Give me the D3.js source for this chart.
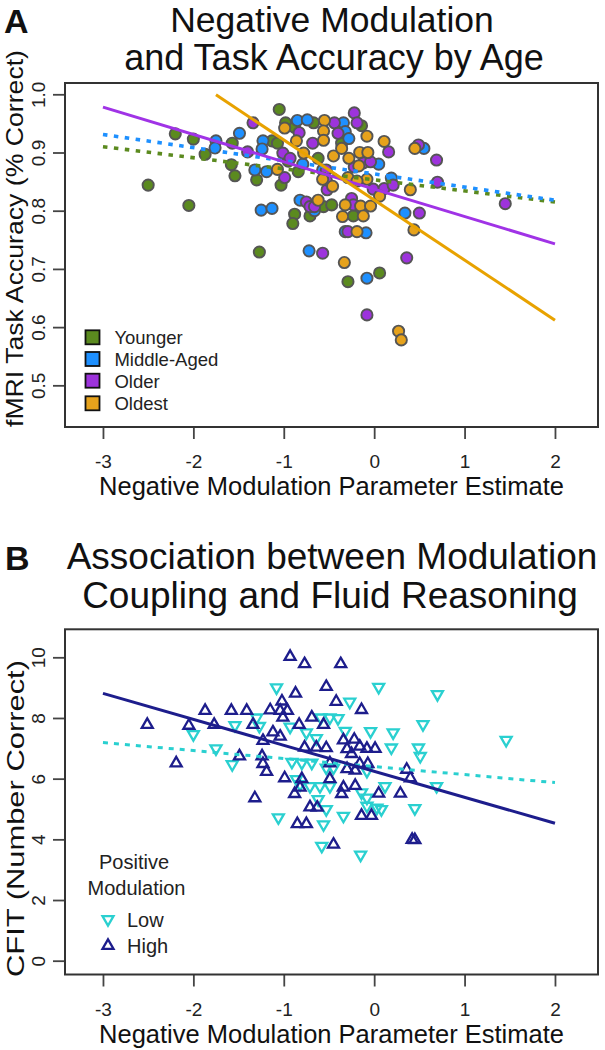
<!DOCTYPE html>
<html><head><meta charset="utf-8">
<script src="https://cdn.jsdelivr.net/npm/d3@7"></script>
<style>body{margin:0;background:#fff}</style>
</head><body>
<svg id="c" width="605" height="1050"></svg>
<script>
// ---------- DATA ----------
const xTicks = [-3, -2, -1, 0, 1, 2];
const yTicksA = [0.5, 0.6, 0.7, 0.8, 0.9, 1.0];
const yTicksB = [0, 2, 4, 6, 8, 10];
const groupsA = ["Younger", "Middle-Aged", "Older", "Oldest"];
const groupsB = ["Low", "High"];

const younger = [[-1.05,0.974],[-0.98,0.951],[-0.67,0.951],[-0.14,0.946],[-0.88,0.943],[-1.57,0.916],[-1.87,0.897],[-1.13,0.920],[-1.07,0.916],[-0.62,0.890],[-0.36,0.916],[-0.84,0.867],[-1.03,0.844],[-1.30,0.853],[-1.54,0.860],[-1.58,0.879],[-0.56,0.807],[-0.47,0.810],[-0.88,0.794],[-0.71,0.791],[-0.90,0.778],[-0.23,0.791],[-2.20,0.932],[-2.00,0.923],[-2.50,0.844],[-2.05,0.809],[-1.27,0.729],[-0.29,0.678],[0.06,0.693],[-0.95,0.885]];
const middleAged = [[-0.85,0.955],[-0.74,0.956],[-0.34,0.951],[-1.49,0.933],[-0.32,0.936],[-1.75,0.920],[-1.76,0.908],[-1.23,0.920],[-1.24,0.906],[-0.79,0.880],[0.05,0.880],[-1.32,0.870],[-1.19,0.867],[0.19,0.856],[-0.82,0.818],[-0.66,0.800],[-1.25,0.801],[-1.13,0.804],[-0.32,0.764],[-0.09,0.762],[0.55,0.907],[0.34,0.796],[-0.72,0.731],[-0.08,0.684],[-0.57,0.870],[-0.28,0.924]];
const older = [[-1.34,0.951],[-0.44,0.951],[-0.22,0.968],[-0.19,0.951],[-0.83,0.934],[-0.40,0.933],[-1.40,0.901],[-0.68,0.916],[-1.01,0.899],[-0.93,0.890],[0.16,0.901],[-0.12,0.882],[-0.04,0.884],[-0.22,0.875],[-0.53,0.870],[-0.99,0.857],[-0.52,0.836],[-0.01,0.837],[0.11,0.838],[0.21,0.844],[-0.75,0.815],[-0.71,0.807],[-0.25,0.821],[-0.23,0.810],[-0.29,0.764],[0.49,0.913],[0.69,0.887],[0.70,0.849],[0.50,0.796],[1.45,0.812],[0.36,0.719],[-0.57,0.727],[-0.08,0.621],[-0.53,0.853],[-0.66,0.807]];
const oldest = [[-0.55,0.955],[-0.99,0.942],[-0.56,0.937],[-0.08,0.928],[-0.86,0.920],[-0.56,0.921],[-0.78,0.899],[-0.45,0.894],[-0.36,0.907],[-0.16,0.900],[-0.07,0.900],[0.11,0.919],[-0.17,0.877],[-0.28,0.890],[-1.07,0.871],[-0.57,0.854],[-0.46,0.842],[-0.29,0.857],[-0.08,0.854],[0.06,0.825],[-0.62,0.818],[-0.32,0.810],[-0.15,0.808],[-0.04,0.808],[-0.35,0.790],[-0.12,0.791],[-0.19,0.764],[0.45,0.907],[0.40,0.836],[0.44,0.767],[-0.33,0.711],[0.27,0.593],[0.30,0.578],[-0.19,0.851]];

// regression lines panel A: [x1, y1, x2, y2]
const fitYounger = [-3, 0.910, 2, 0.815];
const fitMiddle = [-3, 0.931, 2, 0.818];
const fitOlder = [-3, 0.978, 2, 0.743];
const fitOldest = [-1.75, 0.999, 2, 0.612];

const highMod = [[-0.93,10.04],[-0.77,9.80],[-0.37,9.80],[-0.53,9.05],[-0.87,8.83],[-0.42,8.56],[-1.02,8.57],[-0.14,8.29],[-1.87,8.26],[-1.58,8.26],[-1.41,8.26],[-1.15,8.28],[-1.04,8.26],[-0.96,8.26],[-1.01,8.04],[-0.69,8.04],[-2.51,7.80],[-2.05,7.77],[-1.77,7.80],[-1.34,7.80],[-0.83,7.80],[-0.56,7.80],[-1.12,7.55],[-1.04,7.41],[-1.23,7.27],[-0.77,7.05],[-0.64,7.05],[-0.53,7.03],[-0.34,7.29],[-0.22,7.31],[-0.16,7.08],[-0.08,7.01],[0.01,7.01],[-0.30,7.00],[-0.25,6.84],[-2.19,6.53],[-1.49,6.76],[-1.24,6.76],[-1.23,6.51],[-1.19,6.25],[-0.49,6.53],[-0.30,6.34],[-0.21,6.29],[-0.16,6.51],[-0.07,6.51],[0.36,6.32],[0.40,6.04],[-0.99,6.04],[-0.80,6.01],[-0.49,6.01],[-0.82,5.73],[-0.88,5.52],[-0.34,5.73],[-0.21,5.79],[0.05,5.53],[0.29,5.53],[-0.36,5.52],[-1.32,5.38],[-0.71,5.08],[-0.63,5.07],[-0.14,4.80],[-0.03,4.80],[-0.85,4.53],[-0.75,4.53],[0.42,4.01],[0.45,4.00],[-0.45,3.85]];
const lowMod = [[-1.08,8.98],[0.05,9.00],[0.70,8.76],[-0.27,8.51],[-2.00,7.44],[-1.75,6.97],[-1.57,6.45],[-1.54,7.74],[-1.30,7.99],[-0.59,7.99],[-0.49,7.99],[-0.40,7.97],[0.54,7.77],[1.46,7.25],[0.21,7.50],[-0.04,7.54],[-0.32,7.55],[-0.93,7.69],[-0.75,7.50],[-0.64,7.31],[0.19,7.00],[0.49,7.00],[0.51,6.72],[-0.91,6.53],[-0.80,6.50],[-0.69,6.50],[-0.53,6.34],[-0.45,6.34],[-0.08,6.23],[-0.86,5.96],[-0.82,5.79],[-0.71,5.73],[-0.60,5.73],[-0.49,5.73],[0.12,5.73],[0.69,5.73],[-0.14,5.52],[-0.08,5.35],[-0.62,5.30],[-0.53,4.97],[0.03,5.02],[0.08,4.97],[0.45,5.00],[-1.06,4.70],[-0.34,4.75],[-0.56,4.47],[-0.58,3.76],[-0.15,3.47],[-0.08,5.08],[-1.27,7.71]];

// regression lines panel B
const fitHigh = [-3, 8.81, 2, 4.53];
const fitLow = [-3, 7.19, 2, 5.87];

// ---------- STYLE ----------
const FONT = "'Liberation Sans', Arial, Helvetica, sans-serif";
const colorsA = ["#5b8a1f", "#1e90ff", "#9d33dc", "#e6a21c"];
const lineColorsA = ["#5b8a1f", "#1e90ff", "#a033e6", "#e8a200"];
const cLow = "#2ad0d0", cHigh = "#1d1d8c";

const svg = d3.select("#c");
const x = d3.scaleLinear().domain([-3.42, 2.476]).range([65, 598]);
const yA = d3.scaleLinear().domain([0.4284, 1.0194]).range([427, 83]);
const yB = d3.scaleLinear().domain([-0.455, 10.923]).range([974.5, 629.3]);

function axes(y, yTicks, fmt, top, bottom) {
  const xa = svg.append("g").attr("transform", `translate(0,${bottom})`)
    .call(d3.axisBottom(x).tickValues(xTicks).tickSize(12).tickFormat(d => String(d)));
  xa.select(".domain").remove();
  xa.selectAll("line").attr("stroke", "#444").attr("stroke-width", 1.8);
  xa.selectAll("text").attr("font-size", 19).attr("font-family", FONT).attr("fill", "#222")
    .attr("dy", null).attr("y", 41.4);
  const ya = svg.append("g").attr("transform", "translate(65,0)")
    .call(d3.axisLeft(y).tickValues(yTicks).tickSize(12).tickFormat(fmt));
  ya.select(".domain").remove();
  ya.selectAll("line").attr("stroke", "#444").attr("stroke-width", 1.8);
  ya.selectAll("text").attr("font-size", 19).attr("font-family", FONT).attr("fill", "#222")
    .attr("x", 0).attr("y", 0).attr("dy", null).attr("text-anchor", "middle")
    .attr("transform", "translate(-20,0) rotate(-90)");
  svg.append("rect").attr("x", 65).attr("y", top).attr("width", 533).attr("height", bottom - top)
    .attr("fill", "none").attr("stroke", "#333").attr("stroke-width", 2);
}

function text(t, px, py, size, opts = {}) {
  const el = svg.append("text").attr("x", px).attr("y", py).text(t)
    .attr("font-family", FONT).attr("font-size", size).attr("fill", opts.fill || "#111")
    .attr("text-anchor", opts.anchor || "start");
  if (opts.bold) el.attr("font-weight", "bold");
  return el;
}

function rotText(t, cx, cy, size, len) {
  svg.append("text").attr("transform", `translate(${cx},${cy}) rotate(-90)`)
    .attr("text-anchor", "middle").attr("font-family", FONT).attr("font-size", size)
    .attr("fill", "#111").attr("textLength", len).attr("lengthAdjust", "spacingAndGlyphs").text(t);
}

// ---------- PANEL A ----------
text("A", 4, 33, 34, {bold: true});
text("Negative Modulation", 332, 32, 35.5, {anchor: "middle"});
text("and Task Accuracy by Age", 334, 69.5, 36, {anchor: "middle"});
axes(yA, yTicksA, d3.format(".1f"), 83, 427);
text("Negative Modulation Parameter Estimate", 331.5, 495, 25.5, {anchor: "middle"});
rotText("fMRI Task Accuracy (% Correct)", 23, 238.5, 24.5, 377);

const seriesA = [younger, middleAged, older, oldest];
seriesA.forEach((pts, i) => {
  svg.append("g").selectAll("circle").data(pts).join("circle")
    .attr("cx", d => x(d[0])).attr("cy", d => yA(d[1])).attr("r", 5.6)
    .attr("fill", colorsA[i]).attr("stroke", "#555").attr("stroke-width", 1.9);
});
const fitsA = [fitYounger, fitMiddle, fitOlder, fitOldest];
fitsA.forEach((f, i) => {
  const l = svg.append("line").attr("x1", x(f[0])).attr("y1", yA(f[1])).attr("x2", x(f[2])).attr("y2", yA(f[3]))
    .attr("stroke", lineColorsA[i]).attr("stroke-width", i < 2 ? 3.6 : 3);
  if (i < 2) l.attr("stroke-dasharray", "4.5,6.5");
});

// legend A
const legRowsA = [337.3, 359, 380.7, 403.3];
groupsA.forEach((g, i) => {
  svg.append("rect").attr("x", 85.5).attr("y", legRowsA[i] - 7).attr("width", 14).attr("height", 14)
    .attr("fill", colorsA[i]).attr("stroke", "#111").attr("stroke-width", 1.8);
  text(g, 114.4, legRowsA[i] + 6.8, 18.5, {fill: "#222"});
});

// ---------- PANEL B ----------
text("B", 5, 570, 34, {bold: true});
text("Association between Modulation", 332, 569, 37, {anchor: "middle"});
text("Coupling and Fluid Reasoning", 330, 608.3, 37, {anchor: "middle"});
axes(yB, yTicksB, d => String(d), 629.3, 974.5);
text("Negative Modulation Parameter Estimate", 331.5, 1043.3, 25.5, {anchor: "middle"});
rotText("CFIT (Number Correct)", 24, 818.5, 24.5, 317);

const triW = 11, triH = 9.5;
const upPath = `M0,${-triH * 0.6}L${triW / 2},${triH * 0.4}L${-triW / 2},${triH * 0.4}Z`;
const downPath = `M0,${triH * 0.6}L${triW / 2},${-triH * 0.4}L${-triW / 2},${-triH * 0.4}Z`;

svg.append("g").selectAll("path").data(lowMod).join("path")
  .attr("d", downPath).attr("transform", d => `translate(${x(d[0])},${yB(d[1])})`)
  .attr("fill", "none").attr("stroke", cLow).attr("stroke-width", 2.3);
svg.append("g").selectAll("path").data(highMod).join("path")
  .attr("d", upPath).attr("transform", d => `translate(${x(d[0])},${yB(d[1])})`)
  .attr("fill", "none").attr("stroke", cHigh).attr("stroke-width", 2.3);

svg.append("line").attr("x1", x(fitLow[0])).attr("y1", yB(fitLow[1])).attr("x2", x(fitLow[2])).attr("y2", yB(fitLow[3]))
  .attr("stroke", cLow).attr("stroke-width", 3).attr("stroke-dasharray", "5,6");
svg.append("line").attr("x1", x(fitHigh[0])).attr("y1", yB(fitHigh[1])).attr("x2", x(fitHigh[2])).attr("y2", yB(fitHigh[3]))
  .attr("stroke", cHigh).attr("stroke-width", 3);

// legend B
text("Positive", 134, 869.3, 20, {anchor: "middle", fill: "#222"});
text("Modulation", 136.5, 895, 20, {anchor: "middle", fill: "#222"});
svg.append("path").attr("d", downPath).attr("transform", "translate(108,920)")
  .attr("fill", "none").attr("stroke", cLow).attr("stroke-width", 2.3);
svg.append("path").attr("d", upPath).attr("transform", "translate(108,945)")
  .attr("fill", "none").attr("stroke", cHigh).attr("stroke-width", 2.3);
text(groupsB[0], 127, 927.3, 20, {fill: "#222"});
text(groupsB[1], 127, 953.3, 20, {fill: "#222"});
</script>
</body></html>
